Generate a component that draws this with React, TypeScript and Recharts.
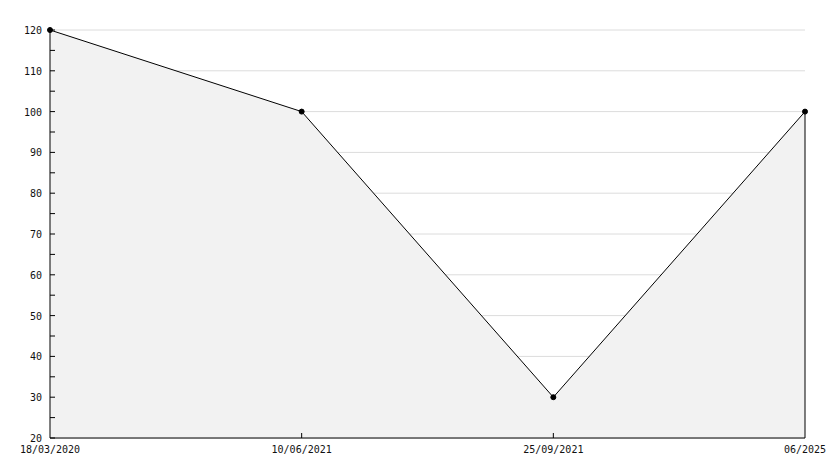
import { AreaChart, Area, XAxis, YAxis, CartesianGrid, ReferenceLine } from "recharts";

const dates = ["18/03/2020", "10/06/2021", "25/09/2021", "06/2025"];
const values = [120, 100, 30, 100];
const yTicks = [20, 25, 30, 35, 40, 45, 50, 55, 60, 65, 70, 75, 80, 85, 90, 95, 100, 105, 110, 115, 120];
const gridValues = [20, 30, 40, 50, 60, 70, 80, 90, 100, 110, 120];

const data = dates.map((d, i) => ({ date: d, value: values[i] }));

const font = "'DejaVu Sans Mono', monospace";

// ticks point inward, labels only on multiples of 10
const YTick = (props: any) => {
  const { x, y, payload } = props;
  const v = payload.value;
  return (
    <g>
      <line x1={x} y1={y} x2={x + 5} y2={y} stroke="#000" />
      {v % 10 === 0 && (
        <text x={x - 8} y={y} dy={4} textAnchor="end" fontSize={10} fontFamily={font} fill="#111">
          {v}
        </text>
      )}
    </g>
  );
};

const XTick = (props: any) => {
  const { x, y, payload, index } = props;
  return (
    <g>
      {index > 0 && index < dates.length - 1 && (
        <line x1={x} y1={y} x2={x} y2={y - 5} stroke="#000" />
      )}
      <text x={x} y={y + 15} textAnchor="middle" fontSize={10} fontFamily={font} fill="#111">
        {payload.value}
      </text>
    </g>
  );
};

export default function App() {
  return (
    <div style={{ position: "absolute", left: 0, top: 0, background: "#fff" }}>
      <AreaChart width={834} height={468} data={data} margin={{ top: 30, right: 29, left: 0, bottom: 0 }}>
        <CartesianGrid vertical={false} horizontalValues={gridValues} stroke="#dcdcdc" />
        <XAxis
          dataKey="date"
          height={30}
          axisLine={{ stroke: "#000" }}
          tickLine={false}
          tickSize={0}
          tickMargin={0}
          interval={0}
          tick={<XTick />}
        />
        <YAxis
          width={50}
          domain={[20, 120]}
          ticks={yTicks}
          interval={0}
          axisLine={{ stroke: "#000" }}
          tickLine={false}
          tickSize={0}
          tickMargin={0}
          tick={<YTick />}
        />
        <Area
          type="linear"
          dataKey="value"
          stroke="#000"
          strokeWidth={1}
          fill="#f2f2f2"
          fillOpacity={1}
          dot={{ r: 2.5, fill: "#000", stroke: "#000", strokeWidth: 1 }}
          isAnimationActive={false}
        />
        <ReferenceLine
          segment={[
            { x: dates[dates.length - 1], y: 20 },
            { x: dates[dates.length - 1], y: values[values.length - 1] },
          ]}
          stroke="#000"
        />
      </AreaChart>
    </div>
  );
}
